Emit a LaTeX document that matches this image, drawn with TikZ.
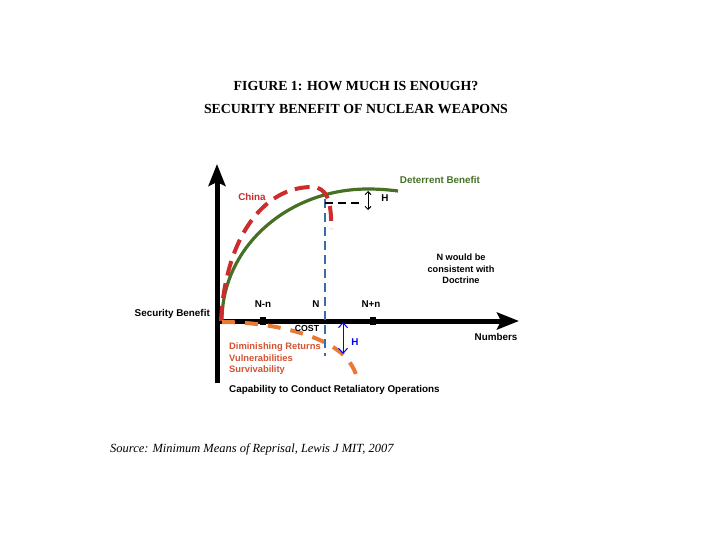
\documentclass[tikz,border=0pt]{standalone}
\usepackage{fontspec}
\setmainfont{Liberation Serif}
\setsansfont{Liberation Sans}
\usetikzlibrary{positioning,arrows.meta}
\definecolor{deter}{RGB}{70,112,38}
\definecolor{china}{RGB}{204,44,44}
\definecolor{costc}{RGB}{232,122,52}
\definecolor{costt}{RGB}{212,82,48}
\definecolor{nblue}{RGB}{58,108,170}
\tikzstyle{lbl}=[font=\sffamily\bfseries\fontsize{9.9}{12}\selectfont,inner sep=1pt]
\tikzstyle{axis}=[line width=5bp,-{Stealth[length=22bp,width=17bp,inset=4bp]}]
\tikzstyle{tk}=[fill=black,minimum width=6bp,minimum height=8bp,inner sep=0pt]
\begin{document}
\begin{tikzpicture}[x=1bp,y=-1bp,%
  every node/.style={inner sep=1pt}]
\useasboundingbox (0,0) rectangle (720,540);
% titles
\node(t1)at(356,86){\bfseries\fontsize{13.9}{16}\selectfont FIGURE 1: HOW MUCH IS ENOUGH?};
\node(t2)at(356,109){\bfseries\fontsize{13.9}{16}\selectfont SECURITY BENEFIT OF NUCLEAR WEAPONS};
\node[anchor=west](src)at(109,449){\itshape\fontsize{12.5}{14}\selectfont Source: Minimum Means of Reprisal, Lewis J MIT, 2007};
% axes
\coordinate(o)at(217,321);
\coordinate(ybot)at(217,383);
\coordinate(ytop)at(217,164);
\coordinate(xend)at(519,321);
\draw[axis](ybot)--(ytop);
\draw[axis](o)--(xend);
\node[tk](nm)at(263,321){};
\node[tk](np)at(373,321){};
% curves
\coordinate(d0)at(222,320);
\coordinate(d1)at(368,189);
\coordinate(d2)at(398,191);
\draw[deter,line width=3.2bp](d0)..controls(222,248)and(287,189)..(d1)
  ..controls(380,189)and(390,190)..(d2);
\coordinate(c0)at(221,321);
\coordinate(c1)at(312,187);
\coordinate(c2)at(331,229);
\draw[china,line width=4bp,dash pattern=on 15bp off 8bp](c0)..controls(225,240)and(262,187)..(c1)
  ..controls(326,187)and(332,200)..(c2);
\coordinate(k0)at(222,322);
\coordinate(k1)at(340,352);
\coordinate(k2)at(358,380);
\draw[costc,line width=4bp,dash pattern=on 13bp off 10bp](k0)..controls(270,322)and(318,334)..(k1)
  ..controls(350,360)and(355,370)..(k2);
\coordinate(nt)at(325,199);
\coordinate(nb)at(325,356);
\draw[nblue,line width=2.5bp,dash pattern=on 9bp off 5bp](nt)--(nb);
\coordinate(hl)at(360,203);
\draw[line width=2bp,dash pattern=on 8bp off 5bp](nt|-hl)--(hl);
\coordinate(ha)at(368,191);
\coordinate(hb)at(368,210);
\draw[{Straight Barb[length=3bp]}-{Straight Barb[length=3bp]},line width=0.9bp](ha)--(hb);
\coordinate(ba)at(343,322);
\coordinate(bb)at(343,354);
\draw[blue,{Straight Barb[length=5bp,width=9bp]}-{Straight Barb[length=5bp,width=9bp]},line width=1bp](ba)--(bb);
% labels
\node[lbl,china](china)at(252,197){China};
\node[lbl,deter](db)at(440,180){Deterrent Benefit};
\node[lbl](h1)at(385,198){H};
\node[lbl,blue](h2)at(355,342){H};
\node[lbl,align=center,font=\sffamily\bfseries\fontsize{9.2}{11.5}\selectfont](doc)at(461,269){N would be\\consistent with\\Doctrine};
\node[lbl](lnm)at(263,304){N-n};
\node[lbl](ln)at(316,304){N};
\node[lbl](lnp)at(371,304){N+n};
\node[lbl,anchor=east](sb)at(211,314){Security Benefit};
\node[lbl](num)at(496,337){Numbers};
\node[lbl,font=\sffamily\bfseries\fontsize{8.8}{10}\selectfont](cost)at(307,328){COST};
\node[lbl,costt,anchor=west,align=left,font=\sffamily\bfseries\fontsize{9.4}{11.5}\selectfont](dim)at(228,359){Diminishing Returns\\Vulnerabilities\\Survivability};
\node[lbl,anchor=west](cap)at(228,390){Capability to Conduct Retaliatory Operations};
\end{tikzpicture}
\end{document}
